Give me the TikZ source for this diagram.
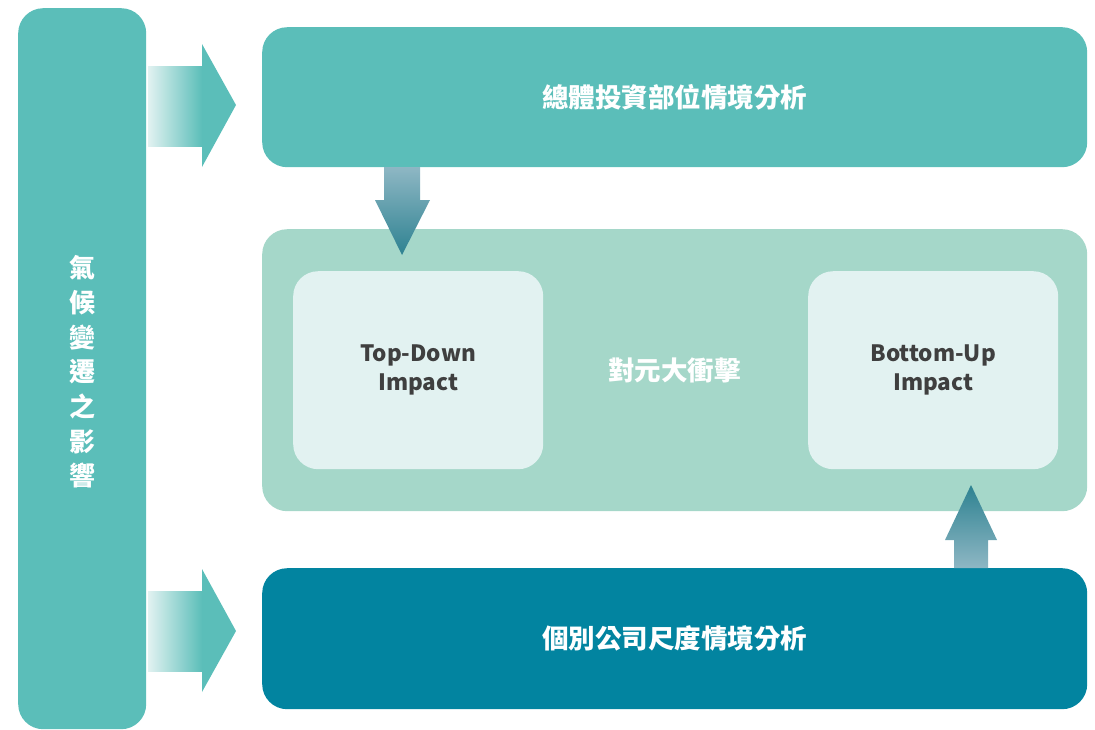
\documentclass[tikz,border=0pt]{standalone}
\usepackage{fontspec}
\setmainfont{Noto Sans CJK TC}
\definecolor{tealbox}{HTML}{5BBEB9}
\definecolor{mintbox}{HTML}{A5D7C9}
\definecolor{palebox}{HTML}{E2F2F1}
\definecolor{deepbox}{HTML}{0284A0}
\definecolor{arrowtop}{HTML}{8EB7C4}
\definecolor{arrowbot}{HTML}{2E8291}
\definecolor{impacttext}{HTML}{3F3F3F}
\begin{document}
\begin{tikzpicture}[x=1pt, y=-1pt,
	box/.style={rounded corners=25pt, inner sep=0pt, anchor=north west, text=white, font=\fontsize{26.5}{30}\selectfont\bfseries},
	innerbox/.style={box, fill=palebox, minimum width=250pt, minimum height=198pt, text=impacttext, align=center, font=\fontsize{22.5}{29}\selectfont\bfseries}]
	\useasboundingbox (0,0) rectangle (1095,729);
	
	% 左側直條
	\node[box, fill=tealbox, minimum width=128pt, minimum height=721pt] (climate) at (18,8) {};
	\node[text=white, align=center, font=\fontsize{26}{34.7}\selectfont\bfseries] (climatetext) at (82,372)
		{氣\\候\\變\\遷\\之\\影\\響};
	
	% 三個主區塊
	\node[box, fill=tealbox, minimum width=825pt, minimum height=140pt] (portfolio) at (262,27) {總體投資部位情境分析};
	\node[box, fill=mintbox, minimum width=825pt, minimum height=282pt] (impact) at (262,229) {對元大衝擊};
	\node[box, fill=deepbox, minimum width=825pt, minimum height=141pt] (company) at (262,568) {個別公司尺度情境分析};
	
	% Top-Down / Bottom-Up
	\node[innerbox] (topdown) at (293,271) {Top-Down\\Impact};
	\node[innerbox] (bottomup) at (808,271) {Bottom-Up\\Impact};
	
	% 向右箭頭
	\foreach \ya/\yb/\yc/\yd/\ye in {44/66/105/146/167, 569/591/631/671/692}{
		\shade[left color=palebox, right color=tealbox] (148,\yb) rectangle (202,\yd);
		\fill[tealbox] (202,\ya) -- (236,\yc) -- (202,\ye) -- cycle;
	}
	
	% 向下箭頭
	\shade[top color=arrowtop, bottom color=arrowbot]
		(384,167) -- (420,167) -- (420,200) -- (430,200) -- (402,255) -- (375,200) -- (384,200) -- cycle;
	
	% 向上箭頭
	\shade[top color=arrowbot, bottom color=arrowtop]
		(954,568) -- (988,568) -- (988,540) -- (997,540) -- (971,485) -- (945,540) -- (954,540) -- cycle;
\end{tikzpicture}
\end{document}
